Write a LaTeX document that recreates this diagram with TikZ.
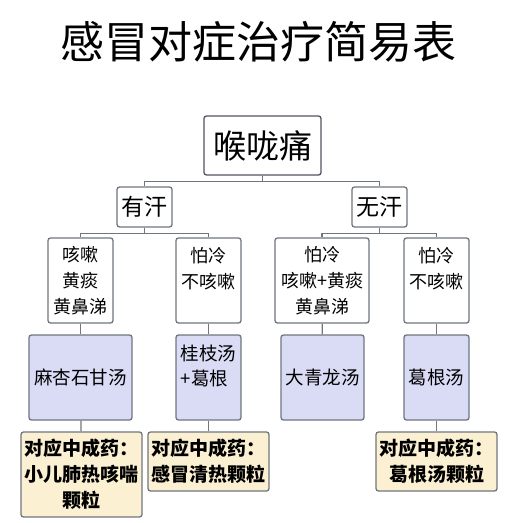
\documentclass[tikz,border=0pt]{standalone}
\usepackage{fontspec}
\usepackage{tikz}
\usetikzlibrary{positioning}
\newfontfamily\cjk{Noto Sans CJK SC}
\definecolor{boxline}{RGB}{112,118,128}
\definecolor{rootline}{RGB}{80,85,95}
\definecolor{lilac}{RGB}{218,220,246}
\definecolor{cream}{RGB}{251,240,210}
\tikzset{
  box/.style={draw=boxline,line width=1.3pt,rounded corners=2.5pt,fill=white,align=center,inner sep=0pt},
  symptom/.style={box,font=\cjk\fontsize{18}{26}\selectfont,minimum height=85pt},
  recipe/.style={box,fill=lilac,font=\cjk\fontsize{18.5}{25}\selectfont,minimum height=85pt},
  drug/.style={box,fill=cream,font=\cjk\bfseries\fontsize{19}{26}\selectfont,minimum width=121pt},
  link/.style={draw=boxline,line width=1.3pt}
}
\begin{document}
\begin{tikzpicture}[x=1pt,y=1pt,yscale=-1]
\useasboundingbox (0,0) rectangle (532,522);

% title
\node (title) at (258,42) {\cjk\fontsize{44}{48}\selectfont 感冒对症治疗简易表};

% tree
\node[box,draw=rootline,minimum width=117pt,minimum height=59pt,font=\cjk\fontsize{33}{36}\selectfont] (root) at (262.5,145.5) {喉咙痛};

\node[box,minimum width=55pt,minimum height=40pt,font=\cjk\fontsize{23}{26}\selectfont] (sweat) at (144.5,207) {有汗};
\node[box,minimum width=55pt,minimum height=40pt,font=\cjk\fontsize{23}{26}\selectfont] (nosweat) at (379.5,207) {无汗};

\node[symptom,minimum width=65pt] (coughA) at (80.5,280.5) {咳嗽\\黄痰\\黄鼻涕};
\node[symptom,minimum width=65pt] (coldA) at (208.5,280.5) {怕冷\\不咳嗽\\~};
\node[symptom,minimum width=94pt] (coldB) at (322,280.5) {怕冷\\咳嗽+黄痰\\黄鼻涕};
\node[symptom,minimum width=65pt] (coldC) at (436.5,280.5) {怕冷\\不咳嗽\\~};

\node[recipe,minimum width=103pt] (mxsg) at (80.5,377.5) {麻杏石甘汤};
\node[recipe,minimum width=65pt,align=left] (gzt) at (208.5,377.5) {桂枝汤\\+葛根\\~};
\node[recipe,minimum width=83pt] (dql) at (322.5,377.5) {大青龙汤};
\node[recipe,minimum width=65pt] (ggt) at (436.5,377.5) {葛根汤};

\node[drug,minimum height=85pt] (drugA) at (81.5,474.5) {对应中成药：\\小儿肺热咳喘\\颗粒};
\node[drug,minimum height=59pt] (drugB) at (208.5,461.5) {对应中成药：\\感冒清热颗粒};
\node[drug,minimum height=59pt] (drugC) at (436.5,461.5) {对应中成药：\\葛根汤颗粒};

% connectors
\draw[link] (root.south) -- ++(0,6) -| (sweat.north);
\draw[link] (root.south) -- ++(0,6) -| (nosweat.north);
\draw[link] (sweat.south) -- ++(0,6) -| (coughA.north);
\draw[link] (sweat.south) -- ++(0,6) -| (coldA.north);
\draw[link] (nosweat.south) -- ++(0,6) -| (coldB.north);
\draw[link] (nosweat.south) -- ++(0,6) -| (coldC.north);
\draw[link] (coughA) -- (mxsg);
\draw[link] (coldA) -- (gzt);
\draw[link] (coldB) -- (dql);
\draw[link] (coldC) -- (ggt);
\draw[link] (mxsg) -- (drugA);
\draw[link] (gzt) -- (drugB);
\draw[link] (ggt) -- (drugC);
\end{tikzpicture}
\end{document}
